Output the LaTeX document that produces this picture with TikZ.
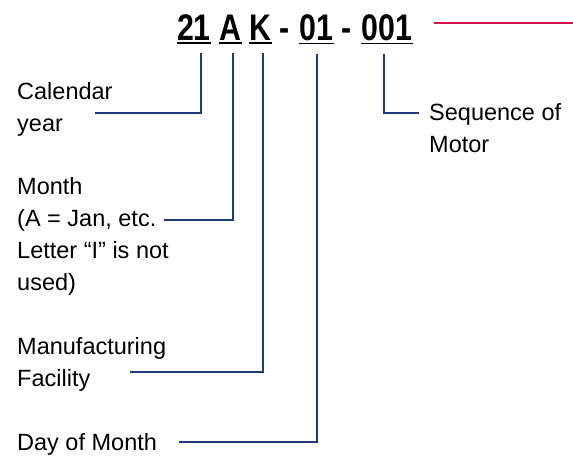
\documentclass[tikz,border=0pt]{standalone}
\usepackage{fontspec}
\setmainfont{Liberation Sans}
\newfontfamily\titlefont[FakeStretch=0.82]{Liberation Sans}
\definecolor{navy}{HTML}{1E3A78}
\definecolor{crimson}{HTML}{D7144B}
\begin{document}
\begin{tikzpicture}[x=1pt,y=-1pt,
  tok/.style={font=\titlefont\bfseries\fontsize{37}{37}\selectfont, inner sep=0pt, anchor=base},
  uline/.style={line width=1.8pt, black},
  conn/.style={line width=2pt, navy},
  lbl/.style={anchor=north west, inner sep=0pt, align=left, font=\fontsize{23.5}{32}\selectfont},
  redline/.style={line width=2pt, crimson}]
\useasboundingbox (0,0) rectangle (573,466);
% title tokens
\node[tok] (t21) at (194,40) {21};
\node[tok] (tA) at (230.5,40) {A};
\node[tok] (tK) at (260.5,40) {K};
\node[tok] (d1) at (285,40) {-};
\node[tok] (t01) at (316.5,40) {01};
\node[tok] (d2) at (347,40) {-};
\node[tok] (t001) at (387,40) {001};
\foreach \t in {t21,tA,tK,t01,t001}
  \draw[uline] ([yshift=-3pt]\t.south west) -- ([yshift=-3pt]\t.south east);
% red line
\coordinate (r1) at (434,23);
\coordinate (r2) at (573,23);
\draw[redline] (r1) -- (r2);
% labels
\node[lbl] (cal) at (17,82) {Calendar\\year};
\node[lbl] (mon) at (17,177) {Month\\(A = Jan, etc.\\Letter “I” is not\\used)};
\node[lbl] (man) at (17,337) {Manufacturing\\Facility};
\node[lbl] (day) at (17,433) {Day of Month};
\node[lbl] (seq) at (429,103) {Sequence of\\Motor};
% connector ends
\coordinate (e21) at (95,113);
\coordinate (eA) at (164,220);
\coordinate (eK) at (130,372);
\coordinate (e01) at (179,442);
\coordinate (e001) at (419,113);
% connectors
\draw[conn] ([xshift=7pt,yshift=-13pt]t21.south) |- (e21);
\draw[conn] ([xshift=2.5pt,yshift=-13pt]tA.south) |- (eA);
\draw[conn] ([xshift=2.5pt,yshift=-13pt]tK.south) |- (eK);
\draw[conn] ([xshift=0pt,yshift=-13pt]t01.south) |- (e01);
\draw[conn] ([xshift=-3pt,yshift=-13pt]t001.south) |- (e001);
\end{tikzpicture}
\end{document}
